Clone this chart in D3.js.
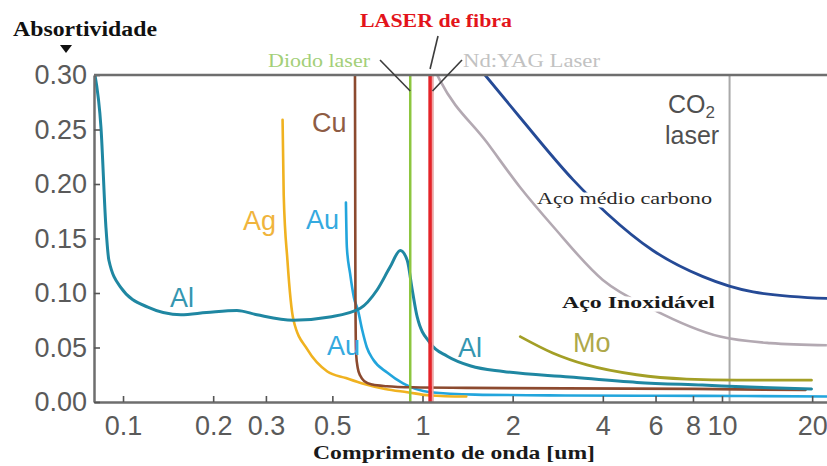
<!DOCTYPE html>
<html>
<head>
<meta charset="utf-8">
<script src="https://cdn.jsdelivr.net/npm/d3@7"></script>
<style>
  body { margin: 0; background: #fff; }
  svg { display: block; }
</style>
</head>
<body>
<svg id="chart" width="827" height="466"></svg>
<script>
// Axis ticks
const xTicks = [0.1, 0.2, 0.3, 0.5, 1, 2, 4, 6, 8, 10, 20];
const xTickLabels = ["0.1", "0.2", "0.3", "0.5", "1", "2", "4", "6", "8", "10", "20"];
const yTicks = [0, 0.05, 0.10, 0.15, 0.20, 0.25, 0.30];

// Absorptivity curves: wavelength (µm) and absorptivity
const alWl  = [0.0806, 0.0844, 0.0877, 0.0897, 0.0984, 0.121, 0.156, 0.19, 0.24, 0.28, 0.37, 0.49, 0.62, 0.706, 0.78, 0.843, 0.889, 0.924, 0.96, 1.06, 1.21, 1.45, 1.86, 3.1, 5.2, 8.6, 13, 19.9];
const alAbs = [0.300, 0.252, 0.160, 0.130, 0.105, 0.087, 0.080, 0.082, 0.084, 0.080, 0.075, 0.078, 0.086, 0.103, 0.124, 0.139, 0.130, 0.103, 0.078, 0.054, 0.042, 0.033, 0.028, 0.023, 0.018, 0.0155, 0.0135, 0.012];

const agWl  = [0.341, 0.344, 0.354, 0.371, 0.413, 0.481, 0.555, 0.63, 0.75, 0.889, 1.06, 1.4];
const agAbs = [0.259, 0.190, 0.130, 0.075, 0.048, 0.028, 0.022, 0.017, 0.012, 0.009, 0.006, 0.005];

const auWl  = [0.555, 0.559, 0.573, 0.59, 0.609, 0.629, 0.652, 0.684, 0.762, 0.861, 1.06, 1.5, 3, 6, 12, 22.4];
const auAbs = [0.183, 0.142, 0.118, 0.096, 0.084, 0.066, 0.050, 0.039, 0.027, 0.017, 0.009, 0.0068, 0.006, 0.0057, 0.0055, 0.005];

const cuWl  = [0.595, 0.596, 0.597, 0.600, 0.608, 0.62, 0.64, 0.68, 0.76, 0.93, 1.4, 3, 8, 19];
const cuAbs = [0.300, 0.200, 0.100, 0.045, 0.031, 0.024, 0.019, 0.016, 0.0145, 0.0135, 0.013, 0.0125, 0.012, 0.011];

const moWl  = [2.12, 2.72, 3.54, 5.19, 7.62, 11.2, 19.9];
const moAbs = [0.060, 0.045, 0.034, 0.025, 0.021, 0.020, 0.020];

const carbonSteelWl  = [1.617, 2.117, 3.18, 4.13, 5.88, 8.64, 12.7, 22.4];
const carbonSteelAbs = [0.300, 0.261, 0.204, 0.173, 0.139, 0.115, 0.101, 0.095];

const stainlessWl  = [1.12, 1.144, 1.642, 2.117, 2.73, 4.0, 5.88, 9.85, 14.5, 22.4];
const stainlessAbs = [0.300, 0.295, 0.238, 0.197, 0.161, 0.112, 0.085, 0.060, 0.054, 0.052];

// Laser wavelengths (µm)
const laserNames = ["Diodo laser", "LASER de fibra", "Nd:YAG Laser", "CO2 laser"];
const laserWl = [0.91, 1.06, 1.08, 10.6];

const svg = d3.select("#chart");
const x = d3.scaleLog().domain([0.08, 22.42]).range([94, 827]);
const y = d3.scaleLinear().domain([0, 0.3]).range([402, 75]);

svg.append("defs").append("clipPath").attr("id", "plotArea")
  .append("rect").attr("x", 94).attr("y", 74).attr("width", 733).attr("height", 329);

const zip = (a, b) => a.map((v, i) => [v, b[i]]);
const line = d3.line()
  .x(d => x(d[0])).y(d => y(d[1]))
  .curve(d3.curveMonotoneX);

const plot = svg.append("g").attr("clip-path", "url(#plotArea)");

// CO2 and Nd:YAG reference lines (behind the curves)
plot.append("line")
  .attr("x1", x(laserWl[3])).attr("x2", x(laserWl[3]))
  .attr("y1", y(0.3)).attr("y2", y(0))
  .attr("stroke", "#a9a9a9").attr("stroke-width", 2);
plot.append("line")
  .attr("x1", x(laserWl[2])).attr("x2", x(laserWl[2]))
  .attr("y1", y(0.3)).attr("y2", y(0))
  .attr("stroke", "#bdbdbd").attr("stroke-width", 2);

function curve(wl, abs, color, width) {
  return plot.append("path")
    .datum(zip(wl, abs))
    .attr("d", line)
    .attr("fill", "none")
    .attr("stroke", color)
    .attr("stroke-width", width)
    .attr("stroke-linecap", "round")
    .attr("stroke-linejoin", "round");
}

curve(auWl, auAbs, "#22a5dc", 2.6);
curve(agWl, agAbs, "#f0b220", 2.6);
curve(cuWl, cuAbs, "#8c4a2f", 2.6);
curve(alWl, alAbs, "#1f87a2", 3);
curve(moWl, moAbs, "#a39f26", 2.8);
curve(carbonSteelWl, carbonSteelAbs, "#254a96", 2.8);

const serif = "'Liberation Serif', 'Times New Roman', serif";
const sans = "'Liberation Sans', Arial, sans-serif";

function halo(sel) {
  return sel.attr("stroke", "#fff").attr("stroke-width", 7)
    .attr("stroke-linejoin", "round").attr("paint-order", "stroke");
}

halo(svg.append("text")
  .attr("x", 537).attr("y", 204)
  .attr("font-family", serif).attr("font-size", 16)
  .attr("textLength", 175).attr("lengthAdjust", "spacingAndGlyphs")
  .attr("fill", "#2a2a2a")
  .text("Aço médio carbono"));

svg.append("path")
  .datum(zip(stainlessWl, stainlessAbs))
  .attr("clip-path", "url(#plotArea)")
  .attr("d", line)
  .attr("fill", "none")
  .attr("stroke", "#b3a9b2")
  .attr("stroke-width", 2.6);

halo(svg.append("text")
  .attr("x", 562).attr("y", 308)
  .attr("font-family", serif).attr("font-size", 17).attr("font-weight", "bold")
  .attr("textLength", 153).attr("lengthAdjust", "spacingAndGlyphs")
  .attr("fill", "#1a1a1a")
  .text("Aço Inoxidável"));

// Diode and fiber laser lines on top
svg.append("line")
  .attr("x1", x(laserWl[0])).attr("x2", x(laserWl[0]))
  .attr("y1", y(0.3)).attr("y2", y(0))
  .attr("stroke", "#8dc63f").attr("stroke-width", 2.5);
svg.append("line")
  .attr("x1", x(laserWl[1]) + 2.5).attr("x2", x(laserWl[1]) + 2.5)
  .attr("y1", y(0.3)).attr("y2", y(0))
  .attr("stroke", "#f2a4a4").attr("stroke-width", 2);
svg.append("line")
  .attr("x1", x(laserWl[1])).attr("x2", x(laserWl[1]))
  .attr("y1", y(0.3)).attr("y2", y(0))
  .attr("stroke", "#e52429").attr("stroke-width", 3.5);

// Axes
const xAxis = d3.axisBottom(x)
  .tickValues(xTicks)
  .tickFormat((d, i) => xTickLabels[i])
  .tickSizeInner(-6).tickSizeOuter(0).tickPadding(14);
const gx = svg.append("g").attr("transform", "translate(0,402)").call(xAxis);

const yAxis = d3.axisLeft(y)
  .tickValues(yTicks)
  .tickFormat(d3.format(".2f"))
  .tickSizeInner(-6).tickSizeOuter(0).tickPadding(7);
const gy = svg.append("g").attr("transform", "translate(94,0)").call(yAxis);

[gx, gy].forEach(g => {
  g.select(".domain").attr("stroke", "#6e6e6e").attr("stroke-width", 2.5);
  g.selectAll(".tick line").attr("stroke", "#555").attr("stroke-width", 1.6);
  g.selectAll(".tick text")
    .attr("font-family", sans).attr("font-size", 27).attr("fill", "#5a5a5a");
});

// Top frame
svg.append("line")
  .attr("x1", 94).attr("x2", 827).attr("y1", y(0.3)).attr("y2", y(0.3))
  .attr("stroke", "#6e6e6e").attr("stroke-width", 2.5);

// Curve labels
const labels = [
  { t: "Al", x: 170, y: 307, c: "#3596b0" },
  { t: "Al", x: 458, y: 357, c: "#3596b0" },
  { t: "Au", x: 306, y: 229, c: "#35aadf" },
  { t: "Au", x: 327, y: 355, c: "#35aadf" },
  { t: "Ag", x: 243, y: 230, c: "#f0b43c" },
  { t: "Cu", x: 312, y: 132, c: "#8e5c44" },
  { t: "Mo", x: 573, y: 352, c: "#aea84a" }
];
svg.append("g").selectAll("text").data(labels).join("text")
  .attr("x", d => d.x).attr("y", d => d.y)
  .attr("font-family", sans).attr("font-size", 27)
  .attr("fill", d => d.c)
  .text(d => d.t);

// CO2 laser label
const co2 = svg.append("text").attr("x", 668).attr("y", 113)
  .attr("font-family", sans).attr("font-size", 25).attr("fill", "#505050");
co2.append("tspan").text("CO");
co2.append("tspan").attr("font-size", 17).attr("dy", 5).text("2");
svg.append("text").attr("x", 665).attr("y", 144)
  .attr("font-family", sans).attr("font-size", 25).attr("fill", "#505050")
  .text("laser");

// Laser name labels with leader lines
svg.append("text").attr("x", 268).attr("y", 67)
  .attr("font-family", serif).attr("font-size", 18)
  .attr("textLength", 102).attr("lengthAdjust", "spacingAndGlyphs")
  .attr("fill", "#a3cf78").text(laserNames[0]);
svg.append("text").attr("x", 360).attr("y", 27)
  .attr("font-family", serif).attr("font-size", 18).attr("font-weight", "bold")
  .attr("textLength", 152).attr("lengthAdjust", "spacingAndGlyphs")
  .attr("fill", "#e3141b").text(laserNames[1]);
svg.append("text").attr("x", 463).attr("y", 67)
  .attr("font-family", serif).attr("font-size", 18)
  .attr("textLength", 137).attr("lengthAdjust", "spacingAndGlyphs")
  .attr("fill", "#c2c2c2").text(laserNames[2]);

const leaders = [
  [380, 60, x(laserWl[0]), 91],
  [438, 36, x(laserWl[1]), 69],
  [462, 60, x(laserWl[2]), 91]
];
svg.append("g").selectAll("line").data(leaders).join("line")
  .attr("x1", d => d[0]).attr("y1", d => d[1])
  .attr("x2", d => d[2]).attr("y2", d => d[3])
  .attr("stroke", "#3c3c3c").attr("stroke-width", 1.6);

// Axis titles
svg.append("text").attr("x", 13).attr("y", 36)
  .attr("font-family", serif).attr("font-size", 20).attr("font-weight", "bold")
  .attr("textLength", 144).attr("lengthAdjust", "spacingAndGlyphs")
  .attr("fill", "#111").text("Absortividade");
svg.append("path").attr("d", "M60,45 L72,45 L66,53 Z").attr("fill", "#111");

svg.append("text").attr("x", 313).attr("y", 459)
  .attr("font-family", serif).attr("font-size", 19).attr("font-weight", "bold")
  .attr("textLength", 282).attr("lengthAdjust", "spacingAndGlyphs")
  .attr("fill", "#1a1a1a").text("Comprimento de onda [um]");
</script>
</body>
</html>
